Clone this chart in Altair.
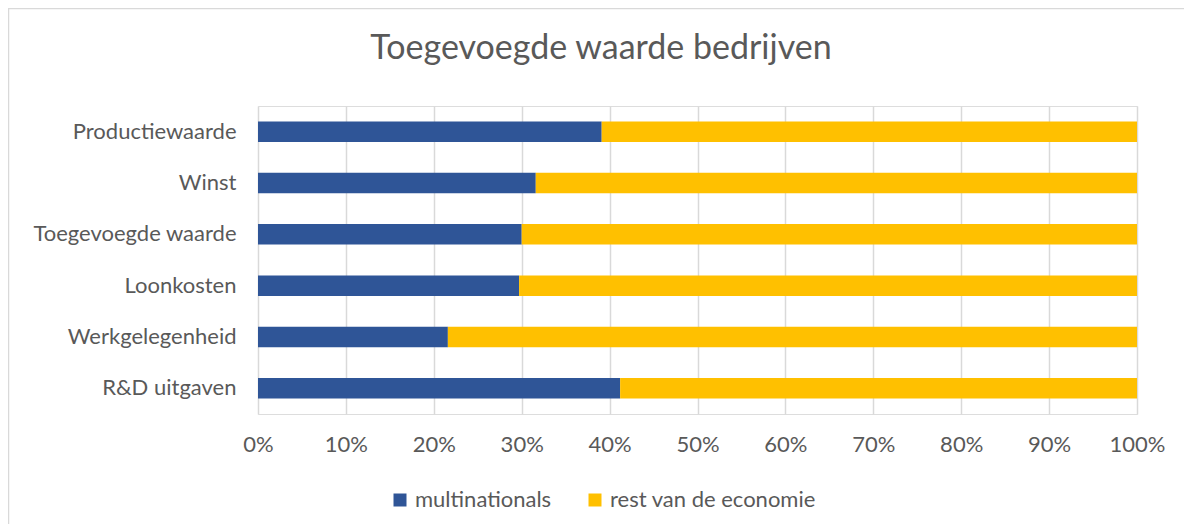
import altair as alt
import pandas as pd

categories = ["Productiewaarde", "Winst", "Toegevoegde waarde", "Loonkosten",
              "Werkgelegenheid", "R&D uitgaven"]
multinationals = [39.1, 31.6, 30.0, 29.7, 21.6, 41.2]
rest = [60.9, 68.4, 70.0, 70.3, 78.4, 58.8]
series = ["multinationals", "rest van de economie"]
colors = ["#2F5597", "#FFC000"]
tick_values = [0, 0.1, 0.2, 0.3, 0.4, 0.5, 0.6, 0.7, 0.8, 0.9, 1.0]
title_text = "Toegevoegde waarde bedrijven"

rows = []
for c, m, r in zip(categories, multinationals, rest):
    rows.append({"cat": c, "serie": series[0], "val": m, "ord": 0})
    rows.append({"cat": c, "serie": series[1], "val": r, "ord": 1})
df = pd.DataFrame(rows)

FONT = "Lato"
TXT = "#595959"

bars = alt.Chart(df).mark_bar().encode(
    y=alt.Y("cat:N", sort=categories,
            scale=alt.Scale(paddingInner=0.6, paddingOuter=0.3),
            axis=alt.Axis(title=None, ticks=False, domain=False, grid=False,
                          labelFontSize=22, labelColor=TXT, labelFont=FONT,
                          labelPadding=22, labelLimit=300)),
    x=alt.X("val:Q", stack="normalize",
            scale=alt.Scale(domain=[0, 1]),
            axis=alt.Axis(title=None, values=tick_values, format=".0%",
                          ticks=False, domain=False, grid=True,
                          gridColor="#D9D9D9", gridWidth=1.5,
                          labelFontSize=22, labelColor=TXT, labelFont=FONT,
                          labelFlush=False, labelPadding=20)),
    color=alt.Color("serie:N",
                    scale=alt.Scale(domain=series, range=colors),
                    legend=alt.Legend(title=None, orient="none",
                                      legendX=131, legendY=383,
                                      direction="horizontal",
                                      symbolType="square", symbolSize=169,
                                      symbolStrokeWidth=0,
                                      labelFontSize=22, labelColor=TXT,
                                      labelFont=FONT, labelOffset=4,
                                      labelLimit=400,
                                      columnPadding=32)),
    order=alt.Order("ord:Q"),
)

border = alt.Chart(pd.DataFrame({"b": [1]})).mark_rect(
    fill=None, stroke="#D9D9D9", strokeWidth=1.5
).encode(
    x=alt.value(-249.5), x2=alt.value(1000),
    y=alt.value(-97.5), y2=alt.value(600),
)

title = alt.Chart(pd.DataFrame({"t": [title_text]})).mark_text(
    font=FONT, fontSize=34, color=TXT, align="center", baseline="alphabetic"
).encode(
    text="t:N", x=alt.value(343), y=alt.value(-47),
)

chart = alt.layer(border, bars, title).properties(
    width=879, height=308,
    autosize=alt.AutoSizeParams(type="none"),
    padding={"left": 250, "top": 98, "right": 47, "bottom": 110},
).configure_view(stroke=None).configure(background="white")

chart.save("out.html", embed_options={"renderer": "svg", "actions": False})
